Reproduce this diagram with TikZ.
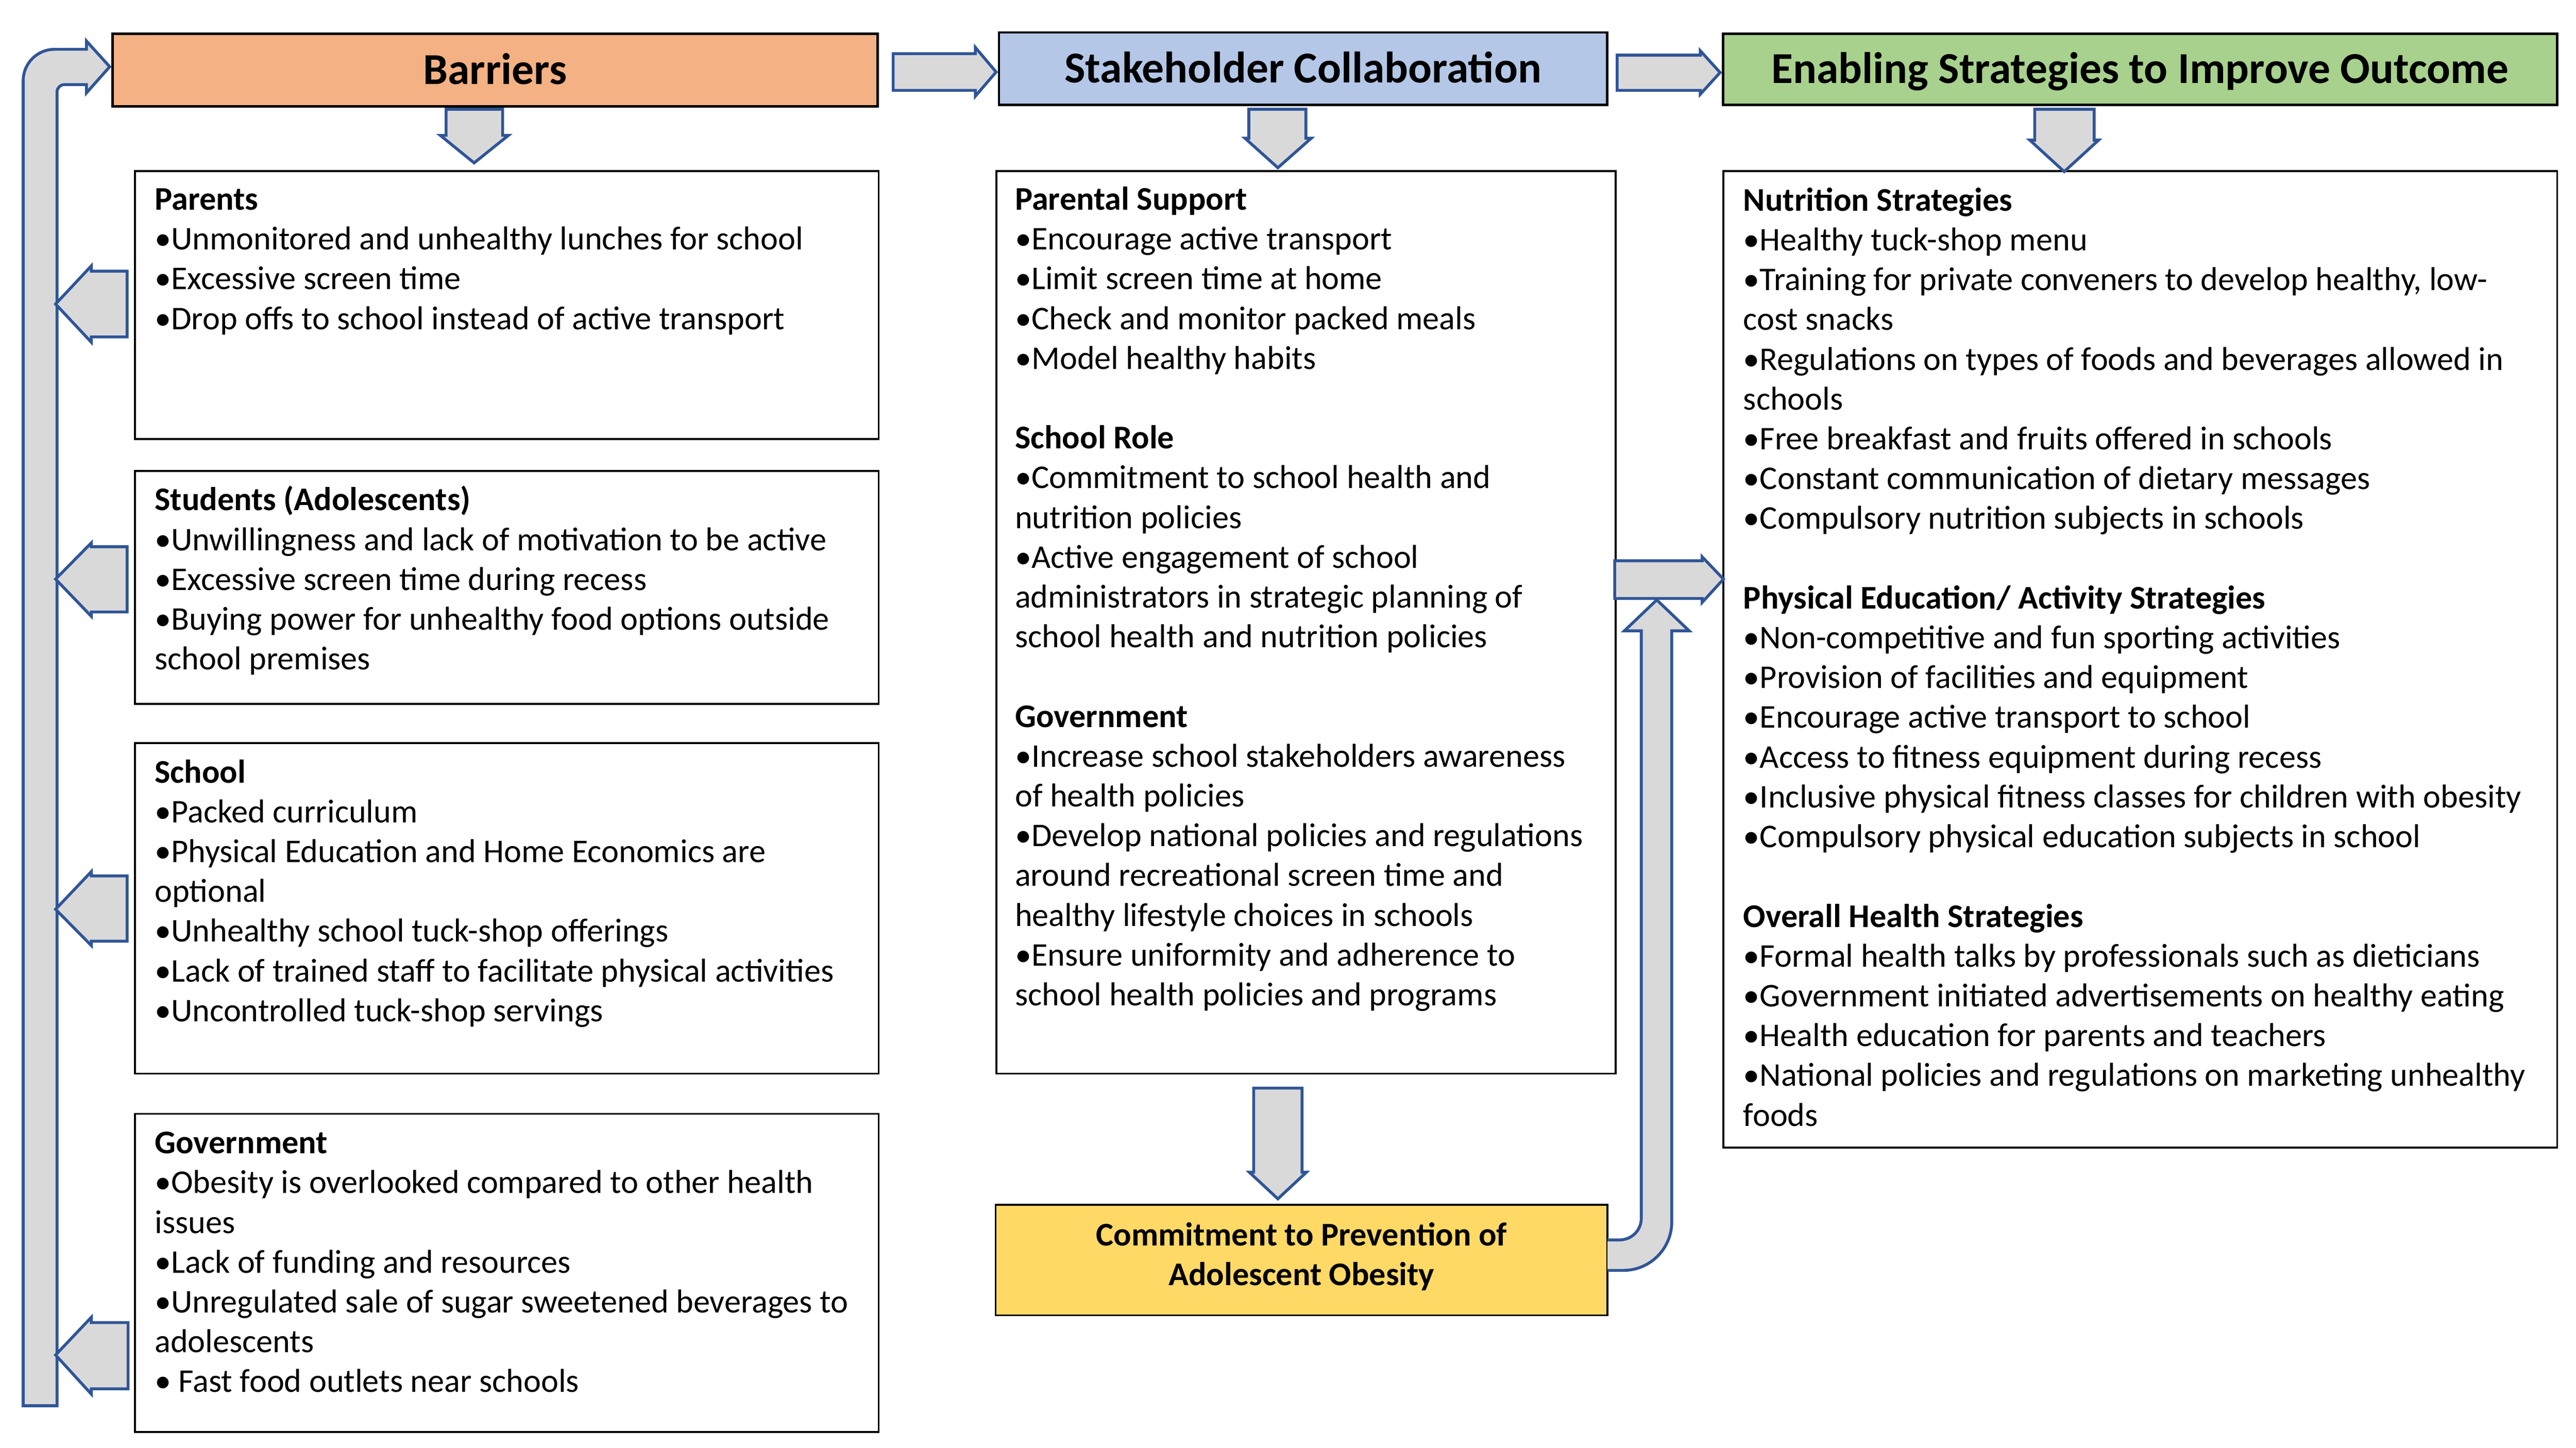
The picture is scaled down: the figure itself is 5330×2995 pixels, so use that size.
\documentclass[tikz,border=0pt]{standalone}
\usepackage{fontspec}
\setmainfont{Carlito}
\definecolor{barrierC}{HTML}{F4B183}
\definecolor{stakeC}{HTML}{B4C7E7}
\definecolor{enableC}{HTML}{A9D18E}
\definecolor{commitC}{HTML}{FFD966}
\definecolor{arrowfill}{HTML}{D9D9D9}
\definecolor{arrowline}{HTML}{2F5597}
\begin{document}
\begin{tikzpicture}[x=1pt,y=-1pt,
  hdr/.style={draw=black, line width=5pt, inner sep=0pt, text height=64pt, text depth=6pt, font=\fontsize{91.3}{108}\selectfont\bfseries},
  box/.style={draw=black, line width=4pt, inner sep=0pt, fill=white},
  body/.style={anchor=north west, inner sep=0pt, align=left, font=\fontsize{68.5}{82.3}\selectfont},
  blk/.style={fill=arrowfill, draw=arrowline, line width=6pt, line join=miter},
]
\useasboundingbox (0,0) rectangle (5330,2995);
\fill[white] (0,0) rectangle (5330,2995);

% header boxes
\node[hdr, fill=barrierC, minimum width=1583pt, minimum height=150pt] (barriers) at (1024.5,145) {Barriers};
\node[hdr, fill=stakeC, minimum width=1258pt, minimum height=150pt] (stake) at (2696,142) {Stakeholder Collaboration};
\node[hdr, fill=enableC, minimum width=1726pt, minimum height=147pt] (enable) at (4428,143.5) {Enabling Strategies to Improve Outcome};

% content boxes
\node[box, minimum width=1539pt, minimum height=554pt] (parents) at (1048.5,631) {};
\node[box, minimum width=1539pt, minimum height=482pt] (students) at (1048.5,1215) {};
\node[box, minimum width=1539pt, minimum height=684pt] (school) at (1048.5,1879) {};
\node[box, minimum width=1539pt, minimum height=658pt] (govt) at (1048.5,2633) {};
\node[box, minimum width=1281pt, minimum height=1867pt] (middle) at (2702.5,1287.5) {};
\node[box, fill=commitC, minimum width=1266pt, minimum height=229pt] (commit) at (2693,2606.5) {};
\node[inner sep=0pt, align=center, font=\fontsize{68.5}{82.3}\selectfont\bfseries] (commitT) at (2693,2599.5)
      {Commitment to Prevention of\\Adolescent Obesity};
\node[box, minimum width=1725pt, minimum height=2020pt] (right) at (4428.5,1364) {};

% texts
\node[body] (parentsT) at (320,376.5) {\strut\textbf{Parents}\\
•Unmonitored and unhealthy lunches for school\\
•Excessive screen time\\
•Drop offs to school instead of active transport};

\node[body] (studentsT) at (320,998.5) {\strut\textbf{Students (Adolescents)}\\
•Unwillingness and lack of motivation to be active\\
•Excessive screen time during recess\\
•Buying power for unhealthy food options outside\\
school premises};

\node[body] (schoolT) at (320,1561.5) {\strut\textbf{School}\\
•Packed curriculum\\
•Physical Education and Home Economics are\\
optional\\
•Unhealthy school tuck-shop offerings\\
•Lack of trained staff to facilitate physical activities\\
•Uncontrolled tuck-shop servings};

\node[body] (govtT) at (320,2328.5) {\strut\textbf{Government}\\
•Obesity is overlooked compared to other health\\
issues\\
•Lack of funding and resources\\
•Unregulated sale of sugar sweetened beverages to\\
adolescents\\
• Fast food outlets near schools};

\node[body] (middleT) at (2100,376.5) {\strut\textbf{Parental Support}\\
•Encourage active transport\\
•Limit screen time at home\\
•Check and monitor packed meals\\
•Model healthy habits\\[82.3pt]
\textbf{School Role}\\
•Commitment to school health and\\
nutrition policies\\
•Active engagement of school\\
administrators in strategic planning of\\
school health and nutrition policies\\[82.3pt]
\textbf{Government}\\
•Increase school stakeholders awareness\\
of health policies\\
•Develop national policies and regulations\\
around recreational screen time and\\
healthy lifestyle choices in schools\\
•Ensure uniformity and adherence to\\
school health policies and programs};

\node[body] (rightT) at (3607,378.5) {\strut\textbf{Nutrition Strategies}\\
•Healthy tuck-shop menu\\
•Training for private conveners to develop healthy, low-\\
cost snacks\\
•Regulations on types of foods and beverages allowed in\\
schools\\
•Free breakfast and fruits offered in schools\\
•Constant communication of dietary messages\\
•Compulsory nutrition subjects in schools\\[82.3pt]
\textbf{Physical Education/ Activity Strategies}\\
•Non-competitive and fun sporting activities\\
•Provision of facilities and equipment\\
•Encourage active transport to school\\
•Access to fitness equipment during recess\\
•Inclusive physical fitness classes for children with obesity\\
•Compulsory physical education subjects in school\\[82.3pt]
\textbf{Overall Health Strategies}\\
•Formal health talks by professionals such as dieticians\\
•Government initiated advertisements on healthy eating\\
•Health education for parents and teachers\\
•National policies and regulations on marketing unhealthy\\
foods};

% block arrows: headers to content
\draw[blk] (923,226) -- (1040,226) -- (1040,280) -- (1052,280) -- (981,337) -- (911,280) -- (923,280) -- cycle;
\draw[blk] (2584,226) -- (2702,226) -- (2702,286) -- (2713,286) -- (2644,347) -- (2576,286) -- (2584,286) -- cycle;
\draw[blk] (4210,226) -- (4333,226) -- (4333,290) -- (4342,290) -- (4271,355) -- (4200,290) -- (4210,290) -- cycle;
% middle box to commitment
\draw[blk] (2594,2251) -- (2694,2251) -- (2694,2425) -- (2703,2425) -- (2644,2480) -- (2585,2425) -- (2594,2425) -- cycle;

% header to header arrows
\draw[blk] (1848,111) -- (2018,111) -- (2018,98) -- (2061,149) -- (2018,199) -- (2018,187) -- (1848,187) -- cycle;
\draw[blk] (3346,114) -- (3518,114) -- (3518,105) -- (3559,150) -- (3518,195) -- (3518,187) -- (3346,187) -- cycle;

% middle to right box
\draw[blk] (3341,1160) -- (3522,1160) -- (3522,1152) -- (3566,1198) -- (3522,1246) -- (3522,1238) -- (3341,1238) -- cycle;

% commitment feedback arrow (open at the box)
\filldraw[blk] (3326,2565) -- (3351,2565) .. controls (3376,2565) and (3396,2545) .. (3396,2520)
  -- (3396,1305) -- (3361,1305) -- (3428,1241) -- (3495,1305) -- (3459,1305) -- (3459,2528)
  .. controls (3459,2583) and (3414,2628) .. (3359,2628) -- (3326,2628);

% left loop arrow back to barriers
\draw[blk] (48,2908) -- (48,167) .. controls (48,131) and (77,102) .. (113,102) -- (179,102) -- (179,85)
  -- (227,138) -- (179,192) -- (179,175) -- (133,175) .. controls (125,175) and (118,182) .. (118,190)
  -- (118,2908) -- cycle;

% left arrows from barrier boxes
\draw[blk] (263,561) -- (189,561) -- (189,550) -- (115,629) -- (189,708) -- (189,697) -- (263,697) -- cycle;
\draw[blk] (263,1131) -- (189,1131) -- (189,1123) -- (115,1198) -- (189,1275) -- (189,1266) -- (263,1266) -- cycle;
\draw[blk] (263,1812) -- (189,1812) -- (189,1803) -- (115,1881) -- (189,1956) -- (189,1947) -- (263,1947) -- cycle;
\draw[blk] (265,2736) -- (189,2736) -- (189,2725) -- (115,2803) -- (189,2884) -- (189,2873) -- (265,2873) -- cycle;
\end{tikzpicture}
\end{document}
